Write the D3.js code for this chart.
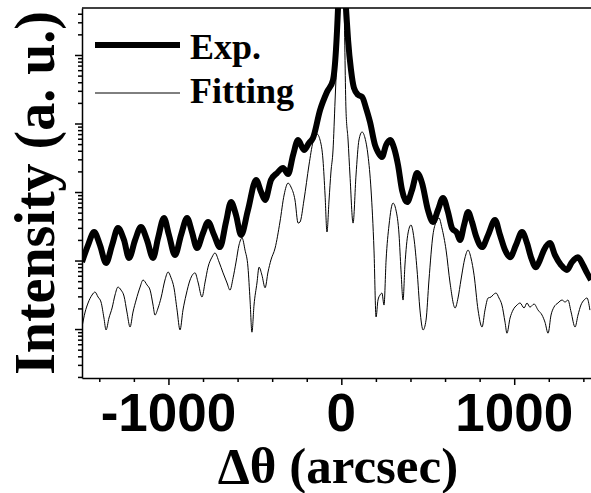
<html>
<script src="https://d3js.org/d3.v7.min.js"></script>
<style>
  body { margin: 0; background: #fff; }
  .axis path, .axis line { stroke: #000; stroke-width: 1.5; }
  .tlabel { font-family: "Liberation Sans", Arial, sans-serif; font-weight: bold; }
  .serif { font-family: "Liberation Serif", "Times New Roman", serif; font-weight: bold; }
</style>
<body onload="init()">
<svg width="591" height="493"></svg>
<script>
// experimental rocking curve (arcsec, intensity a.u.)
const expX = [-1500,-1465,-1430,-1396,-1361,-1326,-1292,-1257,-1228,-1193,-1159,-1124,-1089,-1060,-1026,-997,-962,-927,-892,-864,-835,-800,-771,-736,-702,-667,-638,-609,-580,-540,-493,-464,-441,-407,-372,-337,-308,-279,-250,-216,-187,-164,-123,-83,-48,-31,-19,-13,0,16,27,39,56,73,97,120,143,166,195,212,235,259,282,305,328,351,380,409,438,467,501,530,559,588,617,640,669,687,710,733,756,779,814,849,889,918,947,976,1010,1045,1074,1097,1126,1149,1172,1207,1236,1271,1305,1334,1369,1398,1421,1444];
const expY = [95,168,261,168,92,168,298,199,109,199,308,199,109,213,417,236,120,236,417,261,152,252,365,236,157,365,714,461,236,546,1500,1000,764,1500,1890,2240,1830,3470,5740,4100,5190,6140,15700,28800,43200,118000,485000,1240000,2440000,1240000,485000,166000,60400,33000,26100,24400,16800,10500,4850,3840,3240,4850,5740,4390,2480,1070,714,1070,1890,1350,546,365,546,817,511,298,252,199,330,511,365,228,157,236,390,236,142,112,168,261,180,112,80,102,142,180,120,86,73,95,112,86,66,52];

// dynamical-theory fit
const fitX = [-1500,-1482,-1465,-1442,-1425,-1407,-1390,-1373,-1361,-1344,-1326,-1309,-1292,-1274,-1257,-1240,-1222,-1205,-1187,-1164,-1147,-1124,-1106,-1089,-1078,-1060,-1043,-1020,-1002,-985,-968,-950,-933,-916,-898,-875,-846,-829,-806,-788,-771,-748,-731,-707,-684,-661,-644,-626,-609,-592,-574,-557,-540,-528,-517,-505,-488,-476,-459,-441,-424,-407,-383,-355,-331,-308,-291,-268,-250,-239,-216,-187,-164,-141,-123,-106,-94,-83,-71,-60,-48,-36,-25,-13,0,16,27,39,50,68,85,102,120,137,154,172,189,201,212,224,235,247,259,276,299,316,334,345,357,368,386,403,420,438,455,473,490,507,530,548,565,582,606,629,658,675,692,715,733,750,768,791,814,831,849,866,877,895,912,929,947,958,976,993,1016,1034,1057,1074,1091,1115,1138,1161,1178,1196,1213,1230,1253,1277,1294,1311,1329,1352,1369,1386,1404,1421,1438];
const fitY = [10.7,17.7,24,31.4,34.7,29.3,24.8,14.5,9.7,14.5,20.3,31.4,41,37,30.3,17.7,10.7,17.7,26.5,41,52,44,37,22.4,16,20.3,28.4,52,68,56,40,18.9,9.7,18.9,31.4,52,66,48.5,29.3,48.5,80,112,129,95,66,47,37,56,95,168,213,142,80,26.5,9,22.4,47,80,61,40,68,102,152,365,904,1350,1180,764,352,365,764,2480,5370,7030,5740,2930,904,261,764,1960,4100,22000,100000,485000,2440000,485000,15700,5740,1770,352,1770,5740,7520,6140,3470,1070,142,15,26.5,31.4,33.5,22.4,102,330,690,546,236,73,26.5,86,252,330,213,73,18.9,9.7,13.5,52,236,365,417,298,142,47,20.3,28.4,52,109,142,109,61,18.9,10.7,18.9,28.4,29.3,31.4,33.5,28.4,22.4,12.6,8.7,14.5,18.9,22.4,24,20.3,24,20.9,23.2,18.9,16,12.6,8.7,16,20.9,24,26.5,24.8,26.5,17.7,10.7,16,22.4,26.5,28.4,18.9];

const xTicks = [-1400,-1200,-1000,-800,-600,-400,-200,0,200,400,600,800,1000,1200,1400];
const xLabels = [-1000, 0, 1000];
const legendNames = ["Exp.", "Fitting"];

function init() {
  const svg = d3.select("svg");
  const left = 82, right = 592, top = 8, bottom = 378;

  const x = d3.scaleLinear().domain([-1500, 1450]).range([left, right]);
  const y = d3.scaleLog().domain([1.93, 4.85e5]).range([bottom, top]);

  svg.append("clipPath").attr("id", "plot")
    .append("rect").attr("x", left).attr("y", top)
    .attr("width", right - left).attr("height", bottom - top);

  const line = d3.line()
    .x(d => x(d[0])).y(d => y(d[1]))
    .curve(d3.curveMonotoneX);

  const plot = svg.append("g").attr("clip-path", "url(#plot)");

  plot.append("path")
    .datum(fitX.map((v, i) => [v, fitY[i]]))
    .attr("d", line)
    .attr("fill", "none").attr("stroke", "#000").attr("stroke-width", 1);

  plot.append("path")
    .datum(expX.map((v, i) => [v, expY[i]]))
    .attr("d", line)
    .attr("fill", "none").attr("stroke", "#000")
    .attr("stroke-width", 6).attr("stroke-linejoin", "round");

  // top frame line
  svg.append("line")
    .attr("x1", left).attr("x2", right).attr("y1", top).attr("y2", top)
    .attr("stroke", "#000").attr("stroke-width", 1.5);

  // y axis, log ticks without labels
  const isDecade = v => Math.abs(Math.log10(v) - Math.round(Math.log10(v))) < 1e-6;
  const gy = svg.append("g").attr("class", "axis")
    .attr("transform", `translate(${left},0)`)
    .call(d3.axisLeft(y).tickValues(y.ticks()).tickFormat("").tickSizeOuter(0));
  gy.selectAll(".tick line").attr("x2", d => isDecade(d) ? -7 : -4);

  // x axis
  const gx = svg.append("g").attr("class", "axis")
    .attr("transform", `translate(0,${bottom})`)
    .call(d3.axisBottom(x).tickValues(xTicks).tickFormat("").tickSizeOuter(0));
  gx.selectAll(".tick line").attr("y2", d => xLabels.includes(d) ? 7 : 4);

  svg.selectAll(".xlab").data(xLabels).enter().append("text")
    .attr("class", "tlabel")
    .attr("x", d => x(d)).attr("y", 431)
    .attr("text-anchor", "middle")
    .style("font-size", "53px")
    .text(d => d);

  svg.append("text").attr("class", "serif")
    .attr("x", 338).attr("y", 483)
    .attr("text-anchor", "middle")
    .style("font-size", "51px")
    .text("Δθ (arcsec)");

  svg.append("text").attr("class", "serif")
    .attr("transform", "translate(54,193) rotate(-90)")
    .attr("text-anchor", "middle")
    .style("font-size", "56px")
    .text("Intensity (a. u.)");

  // legend
  const leg = svg.append("g");
  const rows = [{y: 45, w: 6, ty: 59}, {y: 93, w: 1, ty: 103}];
  legendNames.forEach((name, i) => {
    leg.append("line")
      .attr("x1", 95).attr("x2", 180).attr("y1", rows[i].y).attr("y2", rows[i].y)
      .attr("stroke", "#000").attr("stroke-width", rows[i].w);
    leg.append("text").attr("class", "serif")
      .attr("x", 190).attr("y", rows[i].ty)
      .style("font-size", "36px")
      .text(name);
  });
}
</script>
</body>
</html>
